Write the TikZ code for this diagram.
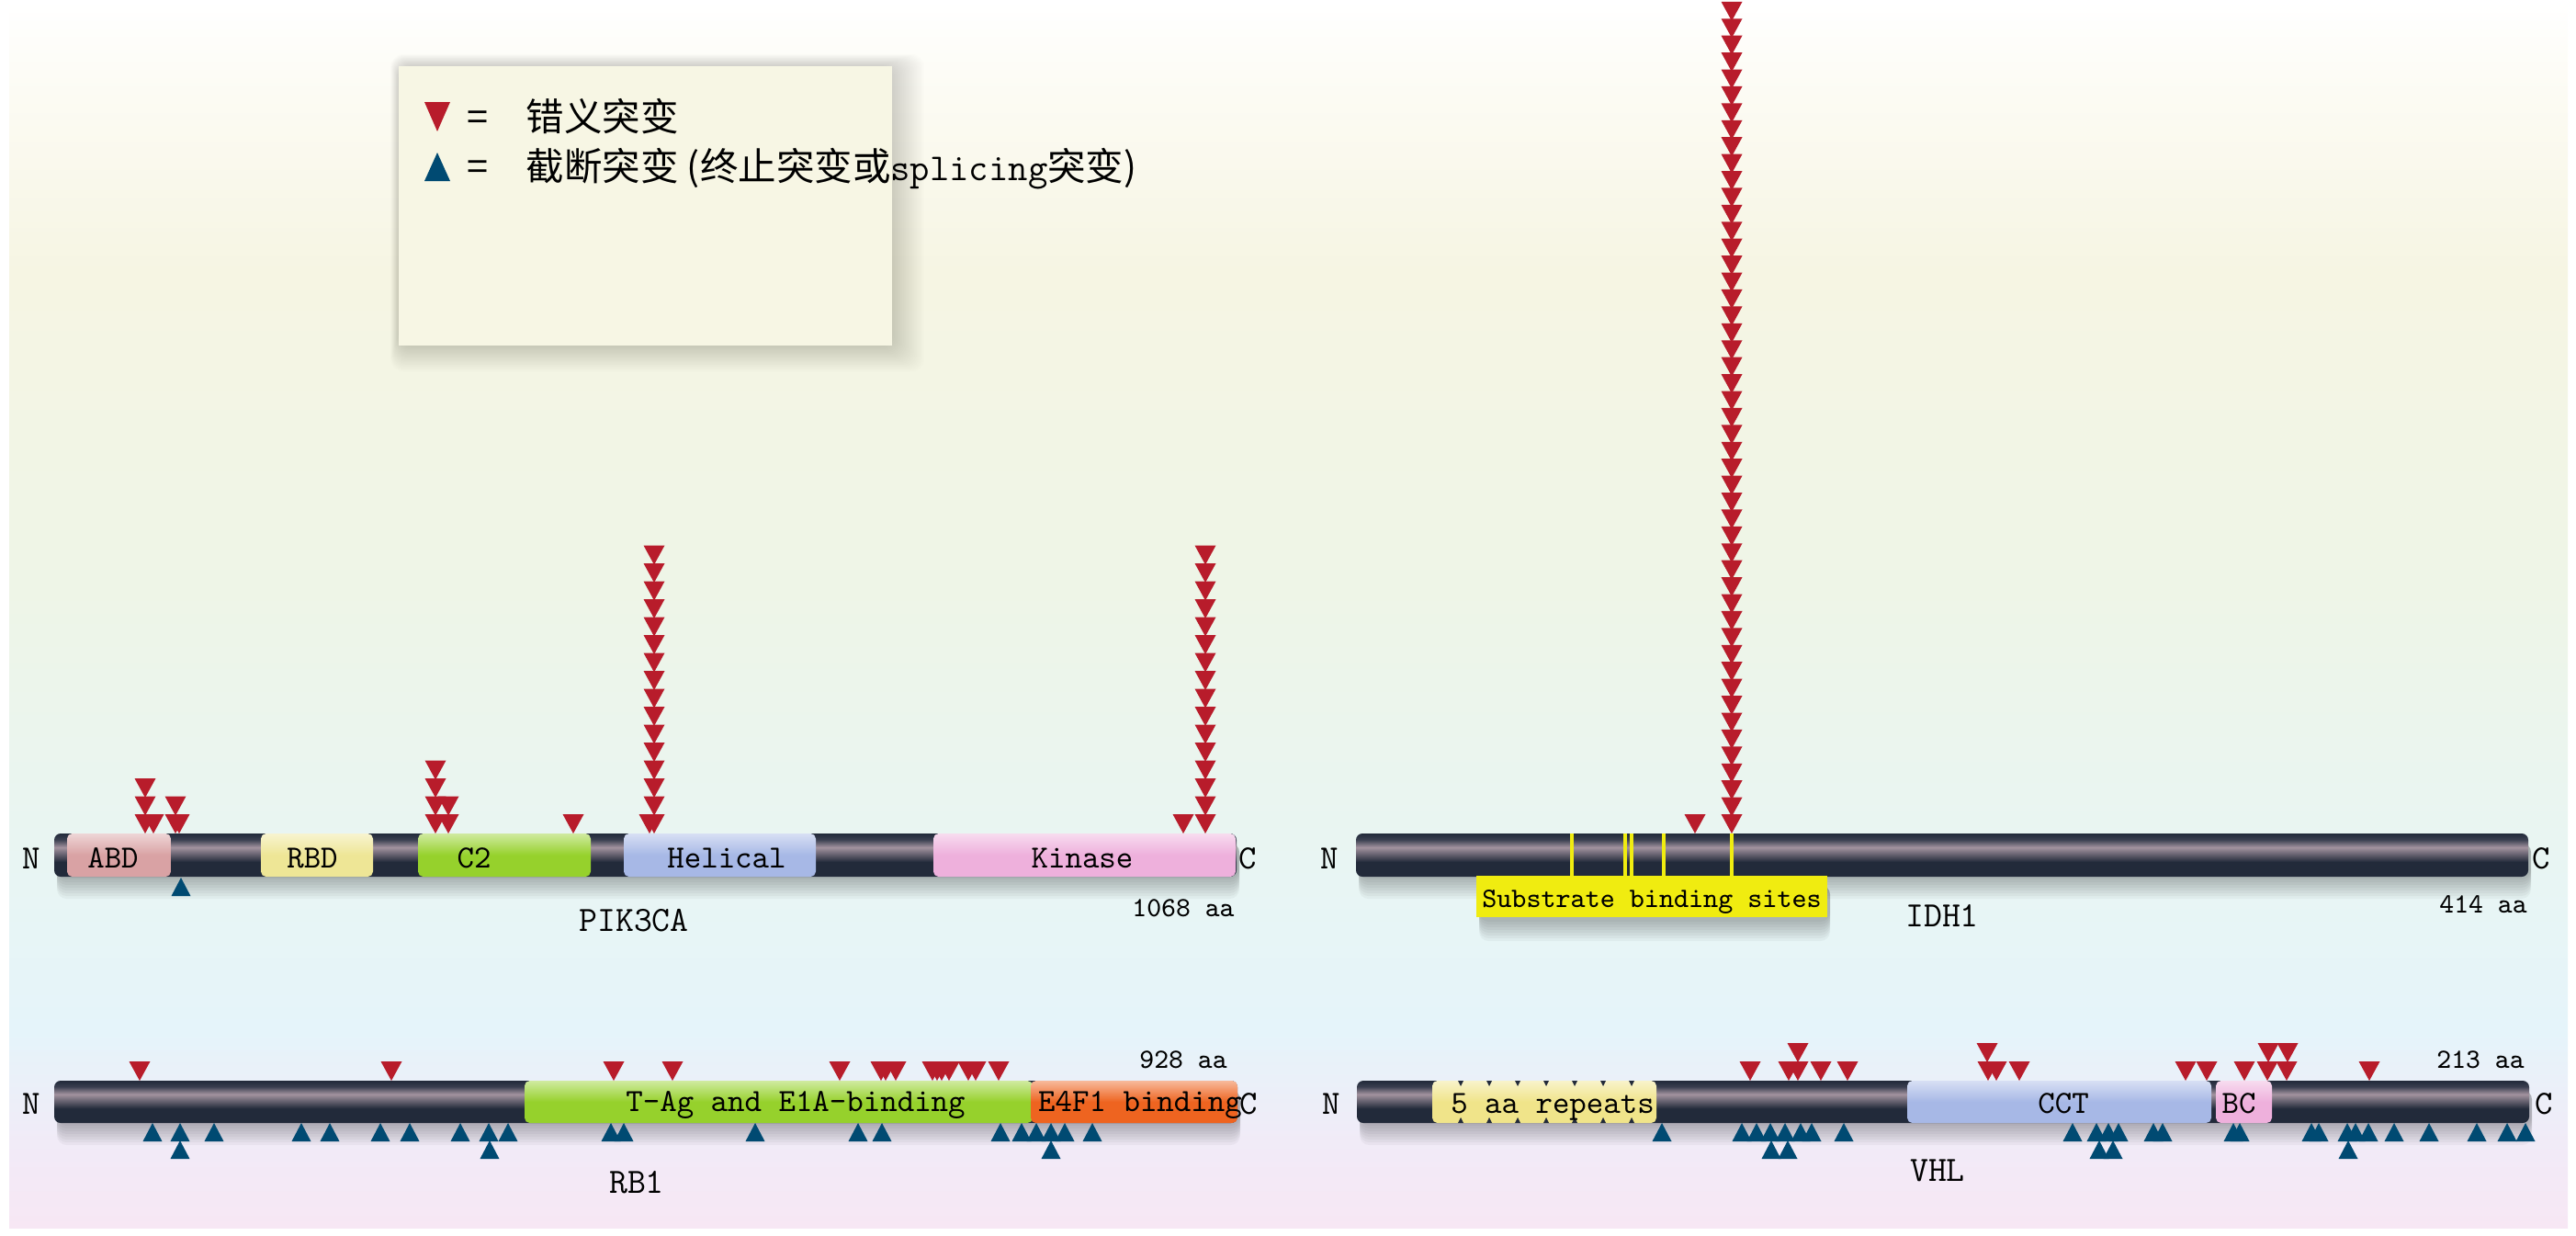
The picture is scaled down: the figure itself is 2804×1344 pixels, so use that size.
\documentclass[tikz,border=0pt]{standalone}
\usepackage{fontspec}
\newfontfamily\cjk{Noto Sans CJK SC}
\definecolor{misred}{HTML}{B81C2B}
\definecolor{truncblue}{HTML}{004A72}
\definecolor{bardark}{HTML}{222A3A}
\definecolor{barmid}{HTML}{3A3F50}
\definecolor{barhi}{HTML}{A3939F}
\definecolor{abd}{HTML}{D9A2A4}
\definecolor{rbd}{HTML}{EEE696}
\definecolor{ctwo}{HTML}{96D12C}
\definecolor{helical}{HTML}{A7B8E6}
\definecolor{kinase}{HTML}{EEB0DC}
\definecolor{efour}{HTML}{EE6420}
\definecolor{repeats}{HTML}{F0E48A}
\definecolor{sitebox}{HTML}{F0EC10}
\definecolor{legendbg}{HTML}{F7F6E4}
\definecolor{bgtop}{HTML}{FCFBF3}
\definecolor{bgcream}{HTML}{F6F5E3}
\definecolor{bggreen}{HTML}{EEF5E7}
\definecolor{bgcyan}{HTML}{E8F5F4}
\definecolor{bgblue}{HTML}{E5F4FA}
\definecolor{bglilac}{HTML}{F2EAF7}
\definecolor{bgpink}{HTML}{F7E7F4}

% background fade and glossy bar
\pgfdeclareverticalshading{bgfade}{100bp}{color(0bp)=(bgpink); color(25bp)=(bgpink);
  color(28bp)=(bglilac); color(33bp)=(bgblue); color(39bp)=(bgcyan); color(51bp)=(bggreen);
  color(64bp)=(bgcream); color(71bp)=(bgtop); color(75bp)=(white); color(100bp)=(white)}
\pgfdeclareverticalshading{barshade}{100bp}{color(0bp)=(bardark); color(25bp)=(bardark);
  color(42bp)=(bardark); color(59bp)=(barhi); color(68bp)=(barmid); color(75bp)=(bardark);
  color(100bp)=(bardark)}

% soft shadow under a box: left, top, right, bottom
\newcommand{\softshadow}[4]{%
  \foreach \d in {1,...,8}
    \fill[shadowlayer] (#1+3,#2+10) rectangle (#3+3,#4+3*\d);}

\begin{document}
\begin{tikzpicture}[
  x=0.01cm, y=-0.01cm,
  shadowlayer/.style={black, opacity=0.035, rounded corners=3pt},
  bar/.style={rounded corners=2pt, shading=barshade},
  dom/.style={rounded corners=1.6pt, top color=#1!45!white, bottom color=#1, middle color=#1},
  lbl/.style={font=\fontsize{10}{12}\selectfont\ttfamily, inner sep=0, anchor=base},
  gene/.style={font=\fontsize{11}{13}\selectfont\ttfamily, inner sep=0, anchor=base},
  len/.style={font=\fontsize{8.6}{10}\selectfont\ttfamily, inner sep=0, anchor=base},
  term/.style={font=\fontsize{10.5}{12}\selectfont\ttfamily, inner sep=0, anchor=base},
  legtxt/.style={font=\fontsize{11.8}{14}\selectfont\cjk, inner sep=0, anchor=base west},
  site/.style={draw=sitebox, line width=1.4pt},
  mis/.pic={\fill[misred] (-11.5,-21) -- (11.5,-21) -- (0,0) -- cycle;},
  trunc/.pic={\fill[truncblue] (-10.5,20) -- (10.5,20) -- (0,0) -- cycle;}
]
  \useasboundingbox (0,0) rectangle (2804,1344);
  \shade[shading=bgfade] (10,0) rectangle (2795,1336);

  % Legend
  \foreach \d in {1,...,22}
    \fill[black, opacity=0.008, rounded corners=4pt] (434-0.4*\d,72-0.6*\d) rectangle (971+1.6*\d,376+1.3*\d);
  \fill[legendbg] (434,72) rectangle (971,376);
  \fill[misred] (462,111) -- (490,111) -- (476,143) -- cycle;
  \fill[truncblue] (462,197) -- (490,197) -- (476,166) -- cycle;
  \node[legtxt, anchor=base] (eq1) at (520,142) {=};
  \node[legtxt, anchor=base] (eq2) at (520,196) {=};
  \node[legtxt] (legmis) at (572,142) {错义突变};
  \node[legtxt] (legtrunc) at (572,196) {截断突变 (终止突变或{\ttfamily splicing}突变)};

  % Bars
  \softshadow{59}{907}{1346}{954}
  \softshadow{1476}{907}{2752}{954}
  \softshadow{59}{1176}{1347}{1222}
  \softshadow{1477}{1176}{2753}{1222}
  \shade[bar] (59,907) rectangle (1346,954);
  \shade[bar] (1476,907) rectangle (2752,954);
  \shade[bar] (59,1176) rectangle (1347,1222);
  \shade[bar] (1477,1176) rectangle (2753,1222);

  % Domains
  \shade[dom=abd] (73,907) rectangle (186,954);
  \shade[dom=rbd] (284,907) rectangle (406,954);
  \shade[dom=ctwo] (455,907) rectangle (643,954);
  \shade[dom=helical] (679,907) rectangle (888,954);
  \shade[dom=kinase] (1016,907) rectangle (1345,954);
  \shade[dom=ctwo] (571,1176) rectangle (1124,1222);
  \shade[dom=efour] (1122,1176) rectangle (1347,1222);
  \shade[dom=repeats] (1559,1176) rectangle (1803,1222);
  \shade[dom=helical] (2076,1176) rectangle (2407,1222);
  \shade[dom=kinase] (2412,1176) rectangle (2473,1222);
  \foreach \x in {1590,1621,1652,1683,1714,1745,1776} {
    \fill[bardark] (\x-3,1176) -- (\x+3,1176) -- (\x,1182) -- cycle;
    \fill[bardark] (\x-3,1222) -- (\x+3,1222) -- (\x,1216) -- cycle;
  }

  % IDH1 substrate sites
  \foreach \x in {1711,1769,1776,1811,1885}
    \draw[site] (\x,907) -- (\x,956);
  \softshadow{1607}{953}{1989}{1000}
  \fill[sitebox] (1607,953) rectangle (1989,998);
  \node[len, font=\fontsize{8.7}{10}\selectfont\ttfamily] (sites) at (1798,987) {Substrate binding sites};

  % Missense mutations
  \foreach \x/\r in {158/0,158/1,158/2,167/0,191/0,191/1,195/0,474/0,474/1,474/2,474/3,488/0,488/1,624/0,707/0,1288/0}
    \pic at (\x,{907-19.5*\r}) {mis};
  \foreach \r in {0,...,15} {
    \pic at (712,{907-19.5*\r}) {mis};
    \pic at (1312,{907-19.5*\r}) {mis};
  }
  \pic at (1845,907) {mis};
  \foreach \r in {0,...,48}
    \pic at (1885,{907-18.42*\r}) {mis};
  \foreach \x in {152,426,668,732,914,959,964,975,1015,1020,1025,1033,1054,1062,1087}
    \pic at (\x,1176) {mis};
  \foreach \x in {1905,1947,1957,1982,2011,2164,2173,2198,2379,2402,2443,2468,2489,2579}
    \pic at (\x,1176) {mis};
  \foreach \x in {1957,2163,2469,2490}
    \pic at (\x,1156) {mis};

  % Truncating mutations
  \pic at (197,955) {trunc};
  \foreach \x in {166,196,233,328,359,414,446,501,532,553,665,679,822,934,960,1089,1112,1128,1144,1159,1189}
    \pic at (\x,1222) {trunc};
  \foreach \x in {196,533,1144}
    \pic at (\x,1241) {trunc};
  \foreach \x in {1809,1896,1912,1927,1943,1960,1972,2007,2256,2282,2295,2306,2344,2354,2431,2438,2516,2524,2555,2564,2578,2606,2644,2696,2729,2749}
    \pic at (\x,1222) {trunc};
  \foreach \x in {1928,1946,2285,2300,2556}
    \pic at (\x,1241) {trunc};

  % Labels
  \node[lbl] (labd) at (123,944) {ABD};
  \node[lbl] (lrbd) at (340,944) {RBD};
  \node[lbl] (lc2) at (516,944) {C2};
  \node[lbl] (lhel) at (791,944) {Helical};
  \node[lbl] (lkin) at (1178,944) {Kinase};
  \node[lbl] (ltag) at (866,1209) {T-Ag and E1A-binding};
  \node[lbl] (le4f) at (1241,1209) {E4F1 binding};
  \node[lbl] (lrep) at (1690,1211) {5 aa repeats};
  \node[lbl] (lcct) at (2246,1211) {CCT};
  \node[lbl] (lbc) at (2437,1211) {BC};

  \node[term] (n1) at (34,945) {N};
  \node[term] (c1) at (1358,945) {C};
  \node[term] (n2) at (1447,945) {N};
  \node[term] (c2) at (2766,945) {C};
  \node[term] (n3) at (34,1212) {N};
  \node[term] (c3) at (1359,1212) {C};
  \node[term] (n4) at (1449,1212) {N};
  \node[term] (c4) at (2769,1212) {C};

  \node[gene] (pik) at (690,1013) {PIK3CA};
  \node[gene] (idh) at (2114,1008) {IDH1};
  \node[gene] (rb) at (693,1298) {RB1};
  \node[gene] (vhl) at (2109,1285) {VHL};

  \node[len] (aa1) at (1288,997) {1068 aa};
  \node[len] (aa2) at (2703,993) {414 aa};
  \node[len] (aa3) at (1288,1162) {928 aa};
  \node[len] (aa4) at (2700,1162) {213 aa};
\end{tikzpicture}
\end{document}
